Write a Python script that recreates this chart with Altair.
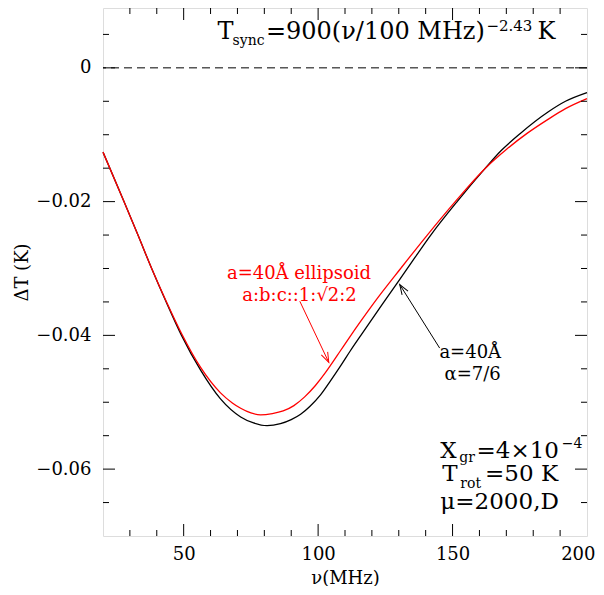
import altair as alt
import pandas as pd

# ---- curve data ----
black_x = [20, 27.8, 33.0, 38.1, 43.5, 49.2, 56.3, 63.7, 71.2, 76, 81, 86, 90, 93.5, 97,
           100.9, 104.6, 108.3, 112, 115.9, 120, 124.5, 133.2, 141.9, 151.7, 162.2, 168,
           175.2, 185.5, 192, 200]
black_y = [-0.0126, -0.0200, -0.0250, -0.0300, -0.0350, -0.0400, -0.0452, -0.0495, -0.0522,
           -0.0531, -0.0535, -0.0532, -0.0526, -0.0518, -0.0506, -0.0489, -0.0468, -0.0446,
           -0.0423, -0.0400, -0.0376, -0.0350, -0.0300, -0.0250, -0.0200, -0.0150, -0.0124,
           -0.0098, -0.0066, -0.0050, -0.0037]
red_x = [20, 27.8, 33.0, 38.1, 43.5, 49.3, 56.3, 63.7, 68.1, 71.2, 75, 78.6, 83, 87, 91,
         95, 99, 102.5, 104.6, 108.3, 112, 116, 121.4, 130.7, 140.6, 151, 162.2, 170,
         177.7, 185.5, 192, 200]
red_y = [-0.0126, -0.0200, -0.0250, -0.0300, -0.0349, -0.0398, -0.0448, -0.0486, -0.0501,
         -0.0509, -0.0516, -0.0519, -0.0517, -0.0513, -0.0505, -0.0492, -0.0475, -0.0457,
         -0.0445, -0.0423, -0.0401, -0.0378, -0.0348, -0.0300, -0.0250, -0.0200, -0.0150,
         -0.0122, -0.0098, -0.0077, -0.0061, -0.0046]

x_major = [50, 100, 150]
x_minor = [30, 40, 60, 70, 80, 90, 110, 120, 130, 140, 160, 170, 180, 190]
y_major = [-0.06, -0.04, -0.02, 0]
y_minor = [-0.065, -0.055, -0.05, -0.045, -0.035, -0.03, -0.025, -0.015, -0.01, -0.005, 0.005]
x_labels = [50, 100, 150, 200]

# ---- annotation texts ----
left_txt = ["T", "sync", "=900(ν/100 MHz)", "−2.43", "K",
            "X", "gr", "=4×10", "−4", "T", "rot", "=50 K", "μ=2000,D",
            "a=40Å", "α=7/6"]
left_x = [62.6, 68.2, 80.6, 162.6, 181.6,
          145.47, 152.5, 158.9, 190.6, 146.2, 152.9, 162.1, 145.47,
          145.1, 147.0]
left_y = [0.00438, 0.00340, 0.00438, 0.00558, 0.00438,
          -0.05829, -0.05889, -0.05829, -0.05680, -0.06173, -0.06278, -0.06173, -0.06592,
          -0.04334, -0.04663]
left_size = [24, 14, 24, 15, 24,
             23, 14, 23, 14, 23, 14, 23, 23,
             18, 18]
left_col = ["black"] * 15

red_txt = ["a=40Å ellipsoid", "a:b:c::1:√2:2"]
red_tx = [92.9, 93.1]
red_ty = [-0.03152, -0.03481]

arrow_id = ["r", "r", "k", "k"]
arrow_x = [93.2, 103.97, 145.2, 130.35]
arrow_y = [-0.0349, -0.04404, -0.0419, -0.0324]
arrow_col = ["red", "red", "black", "black"]
head_x = [103.97, 130.35]
head_y = [-0.04404, -0.0324]
head_ang = [64.6, 237.7]
head_col = ["red", "black"]

FONT = "DejaVu Serif"
W, H = 484, 528
xs = alt.Scale(domain=[20, 200], nice=False, zero=False)
ys = alt.Scale(domain=[-0.07, 0.00895], nice=False, zero=False)

XAX = alt.Axis(values=x_labels, title="ν(MHz)", ticks=False, domain=False, grid=False,
               labelFlush=True, labelFlushOffset=8, labelPadding=9, labelFont=FONT,
               labelFontSize=18, labelColor="black", titleFont=FONT, titleFontSize=18,
               titleFontWeight="normal", titleColor="black", titlePadding=6,
               labelOverlap=False)
YAX = alt.Axis(values=y_major, format=".2~f", title="ΔT (K)", ticks=False, domain=False,
               grid=False, labelPadding=12, labelFont=FONT, labelFontSize=18,
               labelColor="black", titleFont=FONT, titleFontSize=18,
               titleFontWeight="normal", titleColor="black", titlePadding=4,
               labelOverlap=False, labelFlush=False)


def X(f):
    return alt.X(f, scale=xs, axis=XAX, title="ν(MHz)")


def Y(f):
    return alt.Y(f, scale=ys, axis=YAX, title="ΔT (K)")


curves = pd.DataFrame({
    "x": black_x + red_x,
    "y": black_y + red_y,
    "c": ["black"] * len(black_x) + ["red"] * len(red_x),
    "s": ["sphere"] * len(black_x) + ["ellipsoid"] * len(red_x),
})

lines = alt.Chart(curves).mark_line(interpolate="monotone", strokeWidth=1.3).encode(
    x=X("x:Q"), y=Y("y:Q"), color=alt.Color("c:N", scale=None), detail="s:N")

zero = alt.Chart(pd.DataFrame({"y": [0]})).mark_rule(
    color="black", strokeWidth=1, strokeDash=[8, 5]).encode(y=Y("y:Q"))


def xticks(vals, length, top):
    d = pd.DataFrame({"x": vals})
    if top:
        yy, yy2 = alt.value(0), alt.value(length)
    else:
        yy, yy2 = alt.value(H), alt.value(H - length)
    return alt.Chart(d).mark_rule(color="black", strokeWidth=1).encode(
        x=X("x:Q"), y=yy, y2=yy2)


def yticks(vals, length, right):
    d = pd.DataFrame({"y": vals})
    if right:
        xx, xx2 = alt.value(W), alt.value(W - length)
    else:
        xx, xx2 = alt.value(0), alt.value(length)
    return alt.Chart(d).mark_rule(color="black", strokeWidth=1).encode(
        y=Y("y:Q"), x=xx, x2=xx2)


ticks = [xticks(x_major, 12, False), xticks(x_major, 12, True),
         xticks(x_minor, 6, False), xticks(x_minor, 6, True),
         yticks(y_major, 12, False), yticks(y_major, 12, True),
         yticks(y_minor, 6, False), yticks(y_minor, 6, True)]

ltxt = alt.Chart(pd.DataFrame({"x": left_x, "y": left_y, "t": left_txt, "s": left_size,
                               "c": left_col})).mark_text(
    align="left", baseline="alphabetic", font=FONT).encode(
    x=X("x:Q"), y=Y("y:Q"),
    text="t:N", size=alt.Size("s:Q", scale=None), color=alt.Color("c:N", scale=None))

rtxt = alt.Chart(pd.DataFrame({"x": red_tx, "y": red_ty, "t": red_txt})).mark_text(
    align="center", baseline="alphabetic", font=FONT, fontSize=18, color="red").encode(
    x=X("x:Q"), y=Y("y:Q"), text="t:N")

arrows = alt.Chart(pd.DataFrame({"id": arrow_id, "x": arrow_x, "y": arrow_y,
                                 "c": arrow_col})).mark_line(strokeWidth=1).encode(
    x=X("x:Q"), y=Y("y:Q"), color=alt.Color("c:N", scale=None), detail="id:N")

heads = alt.Chart(pd.DataFrame({"x": head_x, "y": head_y, "a": head_ang,
                                "c": head_col})).mark_point(
    shape="M-1,-0.35L0,0L-1,0.35", filled=False, size=400, strokeWidth=1, opacity=1).encode(
    x=X("x:Q"), y=Y("y:Q"),
    angle=alt.Angle("a:Q", scale=None), color=alt.Color("c:N", scale=None))

chart = alt.layer(lines, zero, *ticks, arrows, heads, ltxt, rtxt).properties(
    width=W, height=H, autosize="none",
    padding={"left": 95, "top": 0, "right": 9, "bottom": 50},
).configure_view(stroke="black", strokeWidth=1.5).configure(background="white")

chart.save("out.html", embed_options={"renderer": "svg", "actions": False})
